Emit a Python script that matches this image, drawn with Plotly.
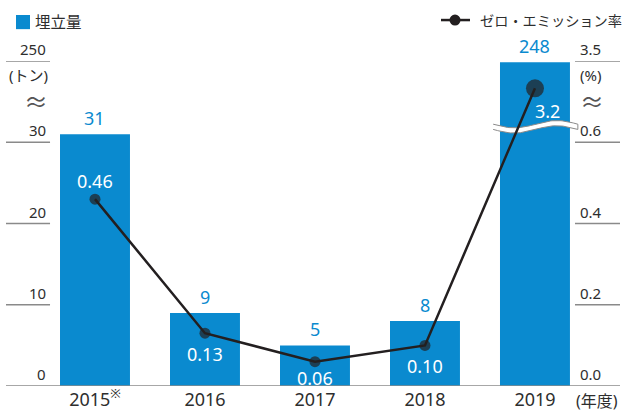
# 埋立量とゼロ・エミッション率の推移

import numpy as np
import plotly.graph_objects as go

years = ["2015<sup>※</sup>", "2016", "2017", "2018", "2019"]
landfill = [31, 9, 5, 8, 248]            # 埋立量（トン）
zero_rate = [0.46, 0.13, 0.06, 0.10, 3.2]  # ゼロ・エミッション率（%）
left_ticks = [0, 10, 20, 30, 250]
right_ticks = [0.0, 0.2, 0.4, 0.6, 3.5]

BLUE = "#0a8acf"
INK = "#231f20"
GREY = "#8a8a8a"
TXT = "#2e2e2e"
FONT = "Noto Sans, Noto Sans CJK JP"

TOP = 40      # 表示上の上端（250 / 3.5）
BREAK = 31.9  # 省略線の位置


def pos_left(v):
    # 30 までは等倍、それ以上は上段に圧縮
    return v if v <= BREAK else TOP - (250 - v) * 0.08


def pos_right(p):
    return p * 50 if p * 50 <= BREAK else TOP - (3.5 - p) * 11.2


xs = list(range(len(years)))
bar_y = [pos_left(v) for v in landfill]
line_y = [pos_right(p) for p in zero_rate]

fig = go.Figure()
fig.add_trace(go.Bar(x=xs, y=bar_y, marker_color=BLUE, marker_line_width=0,
                     width=0.636, hoverinfo="skip", showlegend=False))

# 省略の波線（バーの上に白帯）
wx = np.linspace(3.62, 4.39, 60)
wave = BREAK + 0.45 * np.sin((wx - 3.62) / 0.77 * 2 * np.pi + np.pi)
band_x = np.concatenate([wx, wx[::-1]])
band_y = np.concatenate([wave + 0.32, (wave - 0.32)[::-1]])
fig.add_trace(go.Scatter(x=band_x, y=band_y, fill="toself", fillcolor="white",
                         mode="lines", line=dict(color=GREY, width=1),
                         hoverinfo="skip", showlegend=False))

sizes = [11, 11, 11, 11, 18]
fig.add_trace(go.Scatter(x=xs, y=line_y, mode="lines+markers",
                         line=dict(color=INK, width=2.5),
                         marker=dict(color=INK, size=sizes, line=dict(width=0)),
                         hoverinfo="skip", showlegend=False))

ann = []
# バーの値（青）
for x, v, y in zip(xs, landfill, bar_y):
    ann.append(dict(x=x, y=y, text=str(v), showarrow=False, yanchor="bottom",
                    yshift=2, font=dict(size=18, color=BLUE)))
# 率の値（白）
shift = [(0, 18), (0, -21), (0, -16), (0, -21), (13, -23)]
for x, p, y, (dx, dy) in zip(xs, zero_rate, line_y, shift):
    ann.append(dict(x=x, y=y, text=f"{p:.2f}" if p < 1 else f"{p:.1f}",
                    showarrow=False, xshift=dx, yshift=dy,
                    font=dict(size=18, color="white")))

shapes = []
for t in left_ticks:
    yp = pos_left(t)
    ann.append(dict(xref="paper", x=0.0684, y=yp, text=str(t), showarrow=False,
                    xanchor="right", yanchor="bottom",
                    font=dict(size=15, color=TXT)))
    if t:
        shapes.append(dict(type="line", xref="paper", x0=0, x1=0.0717, y0=yp, y1=yp,
                           line=dict(color=GREY, width=1.5)))
for t in right_ticks:
    yp = pos_right(t)
    ann.append(dict(xref="paper", x=0.9316, y=yp, text=f"{t:.1f}", showarrow=False,
                    xanchor="left", yanchor="bottom",
                    font=dict(size=15, color=TXT)))
    if t:
        shapes.append(dict(type="line", xref="paper", x0=0.9267, x1=1, y0=yp, y1=yp,
                           line=dict(color=GREY, width=1.5)))

shapes.append(dict(type="line", xref="paper", x0=0, x1=1, y0=0, y1=0,
                   line=dict(color=GREY, width=1.5)))

# 単位と省略記号
ann += [
    dict(xref="paper", x=0.0717, y=38.3, text="(トン)", showarrow=False, xanchor="right",
         yanchor="middle", font=dict(size=15, color=TXT)),
    dict(xref="paper", x=0.0717, y=35.0, text="≈", showarrow=False, xanchor="right",
         yanchor="middle", font=dict(size=24, color="#555555")),
    dict(xref="paper", x=0.9316, y=38.3, text="(%)", showarrow=False, xanchor="left",
         yanchor="middle", font=dict(size=15, color=TXT)),
    dict(xref="paper", x=0.932, y=35.0, text="≈", showarrow=False, xanchor="left",
         yanchor="middle", font=dict(size=24, color="#555555")),
    dict(xref="paper", yref="paper", x=0.9625, y=0, text="(年度)", showarrow=False,
         xanchor="center", yanchor="top", yshift=-2, font=dict(size=16, color=TXT)),
]

# 凡例
shapes += [
    dict(type="rect", xref="paper", yref="paper", x0=0.0163, x1=0.0391, y0=1.098, y1=1.1415,
         fillcolor=BLUE, line=dict(width=0)),
    dict(type="line", xref="paper", yref="paper", x0=0.7085, x1=0.7557, y0=1.126, y1=1.126,
         line=dict(color=INK, width=2.5)),
    dict(type="circle", xref="paper", yref="paper", xsizemode="pixel", ysizemode="pixel",
         xanchor=0.7313, yanchor=1.126, x0=-5.5, x1=5.5, y0=-5.5, y1=5.5,
         fillcolor=INK, line=dict(width=0)),
]
ann += [
    dict(xref="paper", yref="paper", x=0.044, y=1.12, text="埋立量", showarrow=False,
         xanchor="left", yanchor="middle", font=dict(size=15.5, color=TXT)),
    dict(xref="paper", yref="paper", x=0.7687, y=1.126, text="ゼロ・エミッション率",
         showarrow=False, xanchor="left", yanchor="middle", font=dict(size=14.2, color=TXT)),
]

fig.update_layout(
    width=624, height=412,
    margin=dict(l=6, r=4, t=61, b=26),
    paper_bgcolor="white", plot_bgcolor="white",
    font=dict(family=FONT, color=TXT),
    xaxis=dict(range=[-0.809, 4.773], tickvals=xs, ticktext=years, showgrid=False,
               zeroline=False, showline=False, ticks="", tickfont=dict(size=18),
               ticklabelstandoff=1, automargin=False),
    yaxis=dict(range=[0, TOP], visible=False, automargin=False),
    annotations=ann, shapes=shapes,
)

fig.write_html("out.html", config={"displayModeBar": False},
               post_script="document.body.style.margin='0';")
